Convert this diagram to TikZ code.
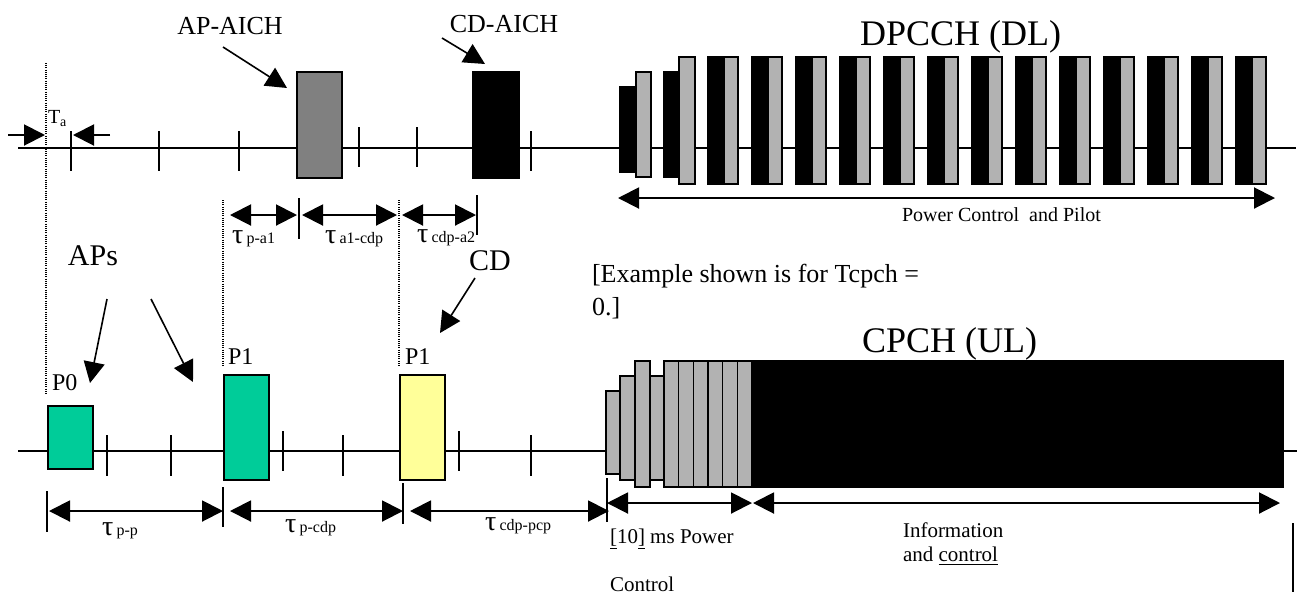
\documentclass[tikz,border=0pt]{standalone}
\usepackage{fontspec}
\setmainfont{Liberation Serif}
\usetikzlibrary{arrows.meta,fit}
\definecolor{apgreen}{HTML}{00CC99}
\definecolor{cdyellow}{HTML}{FFFF99}
\definecolor{lgray}{HTML}{B2B2B2}
\definecolor{mgray}{HTML}{808080}
\newcommand\slotbox[6]{\node[slot, fill=#2, fit={(#3,#4) (#5,#6)}] (#1) {};}
\newcommand\taulbl[1]{{\fontsize{14}{14}\selectfont τ}\,{\fontsize{8}{8}\selectfont #1}}
\tikzset{
  axisline/.style={line width=0.7pt},
  tickline/.style={line width=1pt},
  guide/.style={line width=0.7pt, dash pattern=on 0.5pt off 0.6pt},
  dim/.style={line width=1pt, {Triangle[length=10.5pt,width=10.5pt]}-{Triangle[length=10.5pt,width=10.5pt]}},
  ptr/.style={line width=0.8pt, -{Triangle[length=10.5pt,width=10.5pt]}},
  slot/.style={draw, line width=0.7pt, inner sep=0pt, outer sep=0pt},
  lbl/.style={inner sep=0pt, outer sep=0pt},
}
\begin{document}
\begin{tikzpicture}[x=0.5pt,y=-0.5pt]
\useasboundingbox (0,0) rectangle (1300,596);
% ---------- top (downlink) timeline ----------
\coordinate (ta0) at (18,148); \coordinate (ta1) at (1296,148);
\draw[axisline] (ta0) -- (ta1);
\foreach \x/\a/\b [count=\i] in {71/131/171,159/131/171,239/131/171,359/127/167,417/127/167,531/131/171}{
  \coordinate (tt\i a) at (\x,\a); \coordinate (tt\i b) at (\x,\b);
  \draw[tickline] (tt\i a) -- (tt\i b);
}
\slotbox{apaich}{mgray}{297}{72}{342}{178}
\slotbox{cdaich}{black}{473}{72}{519}{178}
% DPCCH slots
\slotbox{db1}{black}{620}{87}{636}{172}
\slotbox{dg1}{lgray}{636}{72}{651}{177}
\slotbox{db2}{black}{664}{72}{679}{177}
\slotbox{dg2}{lgray}{679}{57}{695}{184}
\foreach \k in {0,...,12}{
  \pgfmathsetmacro\xa{708+44*\k}
  \slotbox{dbk\k}{black}{\xa}{57}{\xa+16}{184}
  \slotbox{dgk\k}{lgray}{\xa+16}{57}{\xa+30}{184}
}
\node[lbl, anchor=base west, font=\fontsize{18}{18}\selectfont] (dpcchlbl) at (860,45) {DPCCH (DL)};
\node[lbl, anchor=base, font=\fontsize{13}{13}\selectfont] (apaichlbl) at (230,34) {AP-AICH};
\node[lbl, anchor=base, font=\fontsize{13}{13}\selectfont] (cdaichlbl) at (504,32) {CD-AICH};
\coordinate (apa0) at (223,47); \coordinate (apa1) at (287,88);
\draw[ptr] (apa0) -- (apa1);
\coordinate (cda0) at (442,38); \coordinate (cda1) at (485,64);
\draw[ptr] (cda0) -- (cda1);
% Ta
\coordinate (g0a) at (46,63); \coordinate (g0b) at (46,395);
\draw[guide] (g0a) -- (g0b);
\coordinate (taL0) at (8,135); \coordinate (taL1) at (45,135);
\coordinate (taR0) at (110,135); \coordinate (taR1) at (73,135);
\draw[ptr, line width=1pt] (taL0) -- (taL1);
\draw[ptr, line width=1pt] (taR0) -- (taR1);
\node[lbl, anchor=base west] (talbl) at (48,123) {\fontsize{10}{10}\selectfont T\raisebox{-0.35ex}{\fontsize{7}{7}\selectfont a}};
% Power control and pilot
\coordinate (pcp0) at (618,198); \coordinate (pcp1) at (1275,198);
\draw[dim] (pcp0) -- (pcp1);
\node[lbl, anchor=base west, font=\fontsize{10}{10}\selectfont] (pcplbl) at (902,221) {Power Control\ \ and Pilot};
% middle timing arrows
\coordinate (g1a) at (223,200); \coordinate (g1b) at (223,367);
\coordinate (g2a) at (399,200); \coordinate (g2b) at (399,367);
\draw[guide] (g1a) -- (g1b);
\draw[guide] (g2a) -- (g2b);
\coordinate (m1a) at (299,198); \coordinate (m1b) at (299,239);
\coordinate (m2a) at (477,195); \coordinate (m2b) at (477,235);
\draw[tickline] (m1a) -- (m1b);
\draw[tickline] (m2a) -- (m2b);
\coordinate (d1a) at (230,215); \coordinate (d1b) at (297,215);
\coordinate (d2a) at (302,215); \coordinate (d2b) at (397,215);
\coordinate (d3a) at (402,215); \coordinate (d3b) at (476,215);
\draw[dim] (d1a) -- (d1b);
\draw[dim] (d2a) -- (d2b);
\draw[dim] (d3a) -- (d3b);
\node[lbl, anchor=base west] (tpa1) at (232,243) {\taulbl{p-a1}};
\node[lbl, anchor=base west] (ta1cdp) at (325,243) {\taulbl{a1-cdp}};
\node[lbl, anchor=base west] (tcdpa2) at (417,242) {\taulbl{cdp-a2}};
% labels APs / CD / example
\node[lbl, anchor=base, font=\fontsize{15}{15}\selectfont] (apslbl) at (93,265) {APs};
\coordinate (aps0) at (107,299); \coordinate (aps1) at (90,383);
\coordinate (aps2) at (151,299); \coordinate (aps3) at (193,382);
\draw[ptr] (aps0) -- (aps1);
\draw[ptr] (aps2) -- (aps3);
\node[lbl, anchor=base, font=\fontsize{15}{15}\selectfont] (cdlbl) at (490,270) {CD};
\coordinate (cdp0) at (475,278); \coordinate (cdp1) at (440,333);
\draw[ptr] (cdp0) -- (cdp1);
\node[lbl, anchor=base west, font=\fontsize{13}{13}\selectfont] (ex1) at (592,282) {[Example shown is for Tcpch =};
\node[lbl, anchor=base west, font=\fontsize{13}{13}\selectfont] (ex2) at (592,315) {0.]};
\node[lbl, anchor=base west, font=\fontsize{18}{18}\selectfont] (cpchlbl) at (862,352) {CPCH (UL)};
% ---------- bottom (uplink) timeline ----------
\coordinate (ba0) at (18,451); \coordinate (ba1) at (1297,451);
\draw[axisline] (ba0) -- (ba1);
\foreach \x/\a/\b [count=\i] in {107/435/476,171/435/476,283/431/471,343/435/476,459/431/471,531/435/476}{
  \coordinate (bt\i a) at (\x,\a); \coordinate (bt\i b) at (\x,\b);
  \draw[tickline] (bt\i a) -- (bt\i b);
}
\slotbox{p0box}{apgreen}{48}{406}{93}{469}
\slotbox{p1box}{apgreen}{224}{375}{269}{480}
\slotbox{cdbox}{cdyellow}{400}{375}{445}{480}
\node[lbl, anchor=base west, font=\fontsize{12}{12}\selectfont] (p0lbl) at (52,390) {P0};
\node[lbl, anchor=base west, font=\fontsize{12}{12}\selectfont] (p1lbl) at (228,364) {P1};
\node[lbl, anchor=base west, font=\fontsize{12}{12}\selectfont] (p1blbl) at (405,364) {P1};
% CPCH power control preamble + message
\slotbox{cb1}{lgray}{606}{391}{620}{474}
\slotbox{cb2}{lgray}{620}{376}{635}{480}
\slotbox{cb3}{lgray}{635}{361}{650}{487}
\slotbox{cb4}{lgray}{650}{376}{664}{480}
\foreach \i in {0,...,5}{
  \pgfmathsetmacro\xa{664+14.667*\i}
  \slotbox{cbk\i}{lgray}{\xa}{361}{\xa+14.667}{487}
}
\slotbox{cmsg}{black}{752}{361}{1283}{487}
% bottom timing arrows
\foreach \x/\a/\b [count=\i] in {47/491/532,223/487/527,403/483/524,607/478/522}{
  \coordinate (bm\i a) at (\x,\a); \coordinate (bm\i b) at (\x,\b);
  \draw[tickline] (bm\i a) -- (bm\i b);
}
\coordinate (e1a) at (49,511); \coordinate (e1b) at (223,511);
\coordinate (e2a) at (230,511); \coordinate (e2b) at (403,511);
\coordinate (e3a) at (410,511); \coordinate (e3b) at (609,511);
\coordinate (e4a) at (607,503); \coordinate (e4b) at (752,503);
\coordinate (e5a) at (753,503); \coordinate (e5b) at (1280,503);
\draw[dim] (e1a) -- (e1b);
\draw[dim] (e2a) -- (e2b);
\draw[dim] (e3a) -- (e3b);
\draw[dim] (e4a) -- (e4b);
\draw[dim] (e5a) -- (e5b);
\node[lbl, anchor=base west] (tpp) at (102,535) {\taulbl{p-p}};
\node[lbl, anchor=base west] (tpcdp) at (285,532) {\taulbl{p-cdp}};
\node[lbl, anchor=base west] (tcdppcp) at (485,530) {\taulbl{cdp-pcp}};
\node[lbl, anchor=base west, font=\fontsize{10.5}{10.5}\selectfont] (pwr1) at (610,543) {\underline{[}10\underline{]} ms Power};
\node[lbl, anchor=base west, font=\fontsize{10.5}{10.5}\selectfont] (pwr2) at (610,591) {Control};
\node[lbl, anchor=base west, font=\fontsize{10.5}{10.5}\selectfont] (info1) at (903,537) {Information};
\node[lbl, anchor=base west, font=\fontsize{10.5}{10.5}\selectfont] (info2) at (903,561) {and \underline{control}};
\coordinate (vr0) at (1293,523); \coordinate (vr1) at (1293,592);
\draw[line width=1pt] (vr0) -- (vr1);
\end{tikzpicture}
\end{document}
